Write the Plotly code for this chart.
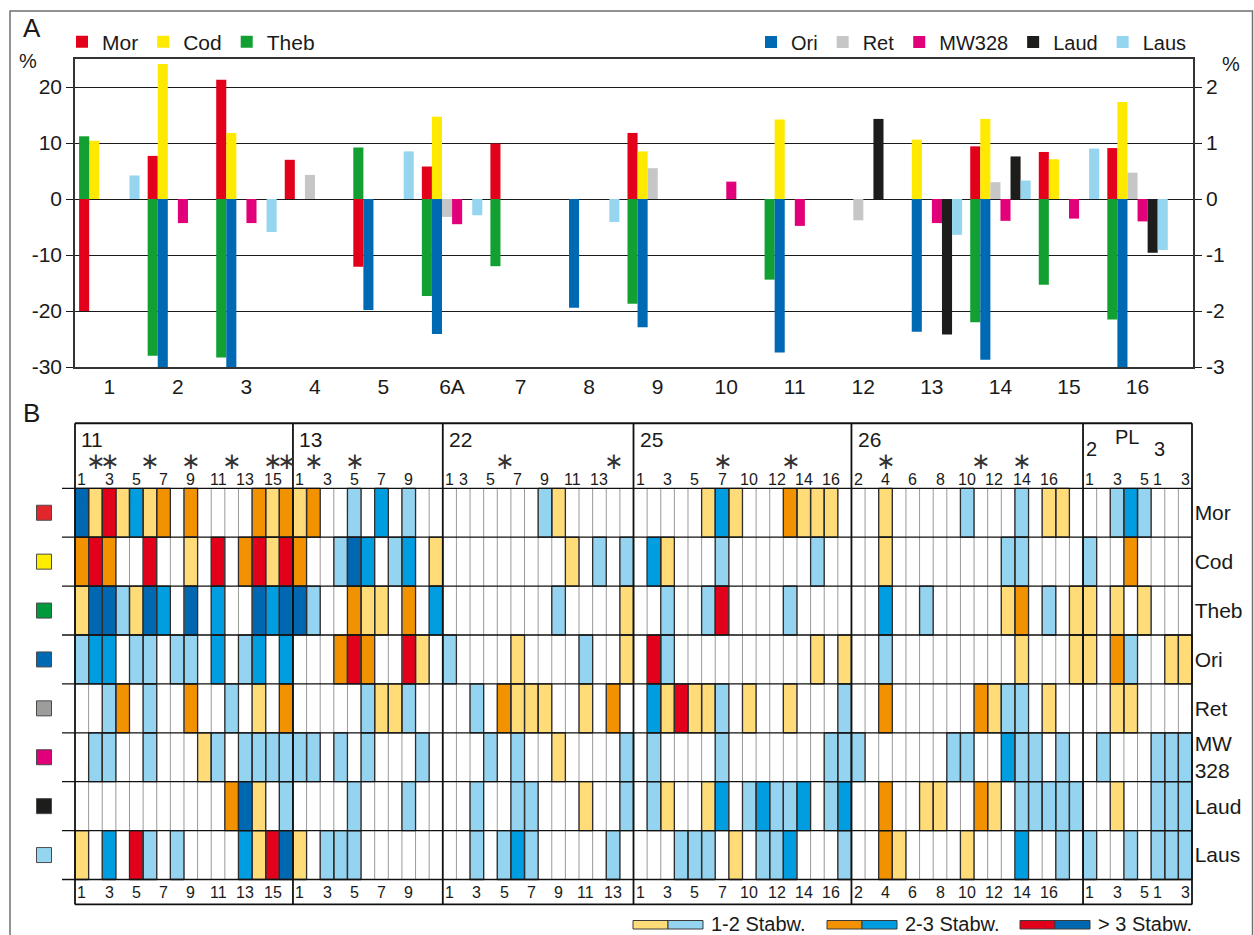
import numpy as np
import plotly.graph_objects as go

W, H = 1254, 935          # reference pixel frame
FIG_H = 946               # canvas height (page is captured and fitted to 935)
FONT = "Liberation Sans, Arial, Helvetica, sans-serif"
NARROW = "Liberation Sans Narrow, Arial Narrow, Liberation Sans, sans-serif"
INK = "#1a1a1a"


def px(x):
    return x / W


def py(y):
    return 1 - y / H


# ---------------- Panel A data ----------------
CATEGORIES = ["1", "2", "3", "4", "5", "6A", "7", "8", "9", "10", "11", "12", "13", "14", "15", "16"]
# left axis (%)
MOR = [-20.0, 7.7, 21.3, 7.0, -12.1, 5.8, 9.9, None, 11.8, None, None, None, None, 9.4, 8.4, 9.1]
COD = [10.4, 24.1, 11.8, None, None, 14.7, None, None, 8.5, None, 14.2, None, 10.6, 14.3, 7.1, 17.3]
THEB = [11.2, -28.0, -28.3, None, 9.2, -17.3, -12.0, None, -18.7, None, -14.4, None, None, -22.0, -15.3, -21.5]
# right axis (%)
ORI = [None, -3.07, -3.17, None, -1.98, -2.41, None, -1.94, -2.29, None, -2.74, None, -2.37, -2.87, None, -3.0]
RET = [None, None, None, 0.43, None, -0.32, None, None, 0.55, None, None, -0.38, None, 0.30, None, 0.47]
MW328 = [None, -0.43, -0.43, None, None, -0.45, None, None, None, 0.31, -0.48, None, -0.43, -0.39, -0.35, -0.40]
LAUD = [None, None, None, None, None, None, None, None, None, None, None, 1.43, -2.42, 0.76, None, -0.96]
LAUS = [0.42, None, -0.59, None, 0.85, -0.29, None, -0.41, None, None, None, None, -0.64, 0.33, 0.90, -0.91]

LEFT_SERIES = [("Mor", MOR), ("Cod", COD), ("Theb", THEB)]
RIGHT_SERIES = [("Ori", ORI), ("Ret", RET), ("MW328", MW328), ("Laud", LAUD), ("Laus", LAUS)]

COLORS = {"Mor": "#E2001A", "Cod": "#FFE900", "Theb": "#13A033", "Ori": "#0069B4",
          "Ret": "#C6C6C6", "MW328": "#E2007A", "Laud": "#1D1D1B", "Laus": "#95D5F0"}
SLOT = {"Mor": 0, "Theb": 0, "Cod": 1, "Ori": 1, "Ret": 2, "MW328": 3, "Laud": 4, "Laus": 5}
STEP = 0.147

# ---------------- Panel B data ----------------
ROWS = ["Mor", "Cod", "Theb", "Ori", "Ret", "MW<br>328", "Laud", "Laus"]
ROW_SQUARES = ["#E3262C", "#FFED00", "#009A3D", "#0069B4", "#9D9D9C", "#E2007A", "#1D1D1B", "#95D5F0"]
# codes: 1/2/3 = +1-2 / +2-3 / >+3 Stabw. ; -1/-2/-3 = negative side ; 0 = none
G11 = [
    [-3, 1, 3, 1, -2, 1, 2, 0, 2, 0, 0, 0, 0, 2, 1, 2],
    [2, 3, 2, 0, 0, 3, 0, 0, 1, 0, 3, 0, 2, 3, 1, 3],
    [1, -3, -3, -1, 1, -3, -2, 0, -3, 0, -2, 0, 0, -3, -2, -3],
    [-1, -2, -2, 0, -1, -1, 0, -1, -1, 0, -2, 0, -1, -2, 0, -2],
    [0, 0, -1, 2, 0, -1, 0, 0, 2, 0, 0, -1, 0, 1, 0, 2],
    [0, -1, -1, 0, 0, -1, 0, 0, 0, 1, -1, 0, -1, -1, -1, -1],
    [0, 0, 0, 0, 0, 0, 0, 0, 0, 0, 0, 2, -3, 1, 0, -1],
    [1, 0, -2, 0, 3, -1, 0, -1, 0, 0, 0, 0, -2, 1, 3, -3],
]
G13 = [
    [1, 2, 0, 0, -1, 0, -2, 0, -1, 0, 0],
    [2, 0, 0, -1, -3, -2, 0, -1, -2, 0, 1],
    [-3, -1, 0, 0, 2, 1, 1, 0, 2, 0, -2],
    [0, 0, 0, 2, 3, 2, 0, 0, 3, 1, 0],
    [0, 0, 0, 0, 0, -1, 1, 1, -1, 0, 0],
    [-1, -1, 0, -1, 0, -1, 0, 0, 0, -1, 0],
    [0, 0, 0, 0, -1, 0, 0, 0, -1, 0, 0],
    [1, 0, -1, -1, -1, 0, 0, 0, 0, 0, 0],
]
G22 = [
    [0, 0, 0, 0, 0, 0, 0, -1, 1, 0, 0, 0, 0, 0],
    [0, 0, 0, 0, 0, 0, 0, 0, 0, 1, 0, -1, 0, -1],
    [0, 0, 0, 0, 0, 0, 0, 0, -1, 0, 0, 0, 0, 1],
    [-1, 0, 0, 0, 0, 1, 0, 0, 0, 0, -1, 0, 0, 1],
    [0, 0, -1, 0, 2, 1, 1, 1, 0, 0, 1, 0, 2, 0],
    [0, 0, 0, -1, 0, -1, 0, 0, 1, 0, 0, 0, 0, -1],
    [0, 0, -1, 0, 0, -1, -1, 0, 0, 0, 1, 0, 0, -1],
    [0, 0, -1, 0, -1, -2, -1, 0, 0, 0, 0, 0, -1, 0],
]
G25 = [
    [0, 0, 0, 0, 0, 1, -2, 1, 0, 0, 0, 2, 1, 1, 1, 0],
    [0, -2, 1, 0, 0, 0, -1, 0, 0, 0, 0, 0, 0, -1, 0, 0],
    [0, 0, -1, 0, 0, -1, 3, 0, 0, 0, 0, -1, 0, 0, 0, 0],
    [0, 3, -1, 0, 0, 0, 0, 0, 0, 0, 0, 0, 0, 1, 0, 1],
    [0, -2, 1, 3, 1, 1, -1, 0, 1, 0, 0, 1, 0, 0, 0, -1],
    [0, -1, 0, 0, 0, 0, -1, 0, 0, 0, 0, 0, 0, 0, -1, -1],
    [0, -1, 1, 0, 0, 1, -2, 0, -1, -2, -1, -1, -2, 0, -1, -2],
    [0, 0, 0, -1, -1, -1, 0, 1, 0, -1, -1, -2, 0, 0, 0, -1],
]
G26 = [
    [0, 0, 1, 0, 0, 0, 0, 0, -1, 0, 0, 0, -1, 0, 1, 1, 0],
    [0, 0, 1, 0, 0, 0, 0, 0, 0, 0, 0, -1, -1, 0, 0, 0, 0],
    [0, 0, -2, 0, 0, -1, 0, 0, 0, 0, 0, 1, 2, 0, -1, 0, 1],
    [0, 0, -1, 0, 0, 0, 0, 0, 0, 0, 0, 0, 1, 0, 0, 0, 1],
    [0, 0, 2, 0, 0, 0, 0, 0, 0, 2, 1, -1, -1, 0, 1, 0, 0],
    [-1, 0, 0, 0, 0, 0, 0, -1, -1, 0, 0, -2, -1, -1, 0, -1, 0],
    [0, 0, 2, 0, 0, 1, 1, 0, 0, 2, 1, 0, -1, -1, -1, -1, -1],
    [0, 0, 2, 1, 0, 0, 0, 0, 1, 0, 0, 0, -2, 0, 0, -1, 0],
]
GPL = [
    [0, 0, -1, -2, -1, 0, 0, 0],
    [-1, 0, 0, 2, 0, 0, 0, 0],
    [1, 0, 1, 0, 1, 0, 0, 0],
    [1, 0, 2, -1, 0, 0, 1, 1],
    [0, 0, 1, 1, 0, 0, 0, 0],
    [0, -1, 0, 0, 0, -1, -1, -1],
    [0, 0, 1, 0, 0, -1, -1, -1],
    [-1, 0, 0, -1, 0, -1, -1, -1],
]
GROUP_NAMES = ["11", "13", "22", "25", "26", "PL"]
TOP11 = ["1", "", "3", "", "5", "", "7", "", "9", "", "11", "", "13", "", "15", ""]
TOP13 = ["1", "", "3", "", "5", "", "7", "", "9", "", ""]
TOP22 = ["1", "3", "", "5", "", "7", "", "9", "", "11", "", "13", "", ""]
TOP25 = ["1", "", "3", "", "5", "", "7", "", "10", "", "12", "", "14", "", "16", ""]
TOP26 = ["2", "", "4", "", "6", "", "8", "", "10", "", "12", "", "14", "", "16", "", ""]
TOPPL = ["1", "", "3", "", "5", "1", "", "3"]
BOT22 = ["1", "", "3", "", "5", "", "7", "", "9", "", "11", "", "13", ""]
TOP_LABELS = [TOP11, TOP13, TOP22, TOP25, TOP26, TOPPL]
BOTTOM_LABELS = [TOP11, TOP13, BOT22, TOP25, TOP26, TOPPL]
STARS = [[2, 3, 6, 9, 12, 15, 16], [2, 5], [5, 13], [7, 12], [3, 10, 13], []]
PL_SUB_LABELS = ["2", "3"]
PL_SUB_START = [1, 6]

LEVEL_COLORS = ["#0068B1", "#009EE0", "#95D4F1", "#FFFFFF", "#FFDC78", "#F29200", "#E3001B"]
STABW = ["1-2 Stabw.", "2-3 Stabw.", "> 3 Stabw."]

fig = go.Figure()

# ---------------- Panel A ----------------
for name, vals in LEFT_SERIES + RIGHT_SERIES:
    right = name in dict(RIGHT_SERIES)
    fig.add_trace(go.Bar(
        x=CATEGORIES, y=vals, name=name,
        marker=dict(color=COLORS[name], line=dict(width=0)),
        offset=-0.44 + SLOT[name] * STEP, width=STEP,
        xaxis="x", yaxis="y2" if right else "y",
        legend="legend2" if right else "legend",
        cliponaxis=False, hoverinfo="skip"))

# ---------------- Panel B ----------------
arrs = [np.array(g) for g in [G11, G13, G22, G25, G26, GPL]]
Z = np.hstack(arrs)
NR, NC = Z.shape
starts = np.concatenate([[0], np.cumsum([a.shape[1] for a in arrs])])

cs = []
for k, c in enumerate(LEVEL_COLORS):
    cs += [[k / 7, c], [(k + 1) / 7, c]]
fig.add_trace(go.Heatmap(z=Z, x=np.arange(NC) + 0.5, y=np.arange(NR) + 0.5, zmin=-3.5, zmax=3.5,
                         colorscale=cs, showscale=False, xaxis="x2", yaxis="y3", hoverinfo="skip"))


def seg_trace(segs, color, width):
    xs, ys = [], []
    for x0, y0, x1, y1 in segs:
        xs += [x0, x1, None]
        ys += [y0, y1, None]
    return go.Scatter(x=xs, y=ys, mode="lines", line=dict(color=color, width=width),
                      xaxis="x2", yaxis="y3", hoverinfo="skip", showlegend=False)


XL = -13 / 13.622
Y_TOP, Y_BOT = -1.33, 8.51
grey = [(b, 0, b, NR) for b in range(1, NC) if b not in set(starts)]
fig.add_trace(seg_trace(grey, "#9a9a9a", 1))
outl = []
for r in range(NR):
    for c in range(NC):
        if Z[r, c] != 0:
            outl += [(c, r, c + 1, r), (c + 1, r, c + 1, r + 1), (c + 1, r + 1, c, r + 1), (c, r + 1, c, r)]
fig.add_trace(seg_trace(outl, "#2e2e2e", 1.3))
fig.add_trace(seg_trace([(XL, r, NC, r) for r in range(NR + 1)], "#111111", 1.3))
fig.add_trace(seg_trace([(s, Y_TOP, s, Y_BOT) for s in starts] +
                        [(0, Y_TOP, NC, Y_TOP), (0, Y_BOT, NC, Y_BOT)], "#111111", 1.8))

fig.add_trace(go.Scatter(x=[0.5] * NR, y=np.arange(NR) + 0.5, mode="markers",
                         marker=dict(symbol="square", size=15, color=ROW_SQUARES,
                                     line=dict(color="#4a4a4a", width=1)),
                         xaxis="x3", yaxis="y3", hoverinfo="skip", showlegend=False, cliponaxis=False))

ann = []


def A(x, y, text, xref="paper", yref="paper", size=20, family=FONT, xanchor="center", yanchor="middle",
      color=INK):
    ann.append(dict(x=x, y=y, xref=xref, yref=yref, text=text, showarrow=False,
                    font=dict(size=size, family=family, color=color), xanchor=xanchor, yanchor=yanchor))


for gi, s in enumerate(starts[:-1]):
    n = arrs[gi].shape[1]
    name = GROUP_NAMES[gi]
    if name == "PL":
        A(s + n / 2 - 0.8, -1.05, name, "x2", "y3", size=20, family=NARROW)
        for lab, st in zip(PL_SUB_LABELS, PL_SUB_START):
            A(s + st - 0.4, -0.8, lab, "x2", "y3", size=20, family=NARROW)
    else:
        A(s + 0.3, -0.99, name, "x2", "y3", size=21, family=NARROW, xanchor="left")
    for i, lab in enumerate(TOP_LABELS[gi]):
        if lab:
            A(s + i + 0.5, -0.17, lab, "x2", "y3", size=16, family=NARROW)
    for i, lab in enumerate(BOTTOM_LABELS[gi]):
        if lab:
            A(s + i + 0.5, 8.27, lab, "x2", "y3", size=16, family=NARROW)
    for c in STARS[gi]:
        A(s + c - 0.5, -0.56, "∗", "x2", "y3", size=23, family="DejaVu Sans", color="#333333")

A(px(21), py(28), "A", size=26, xanchor="left")
A(px(21), py(413), "B", size=26, xanchor="left")
A(px(28), py(61), "%", size=20)
A(px(1231), py(64), "%", size=20)

shapes = [dict(type="rect", xref="paper", yref="paper", x0=px(10), x1=px(1252.5), y0=-0.02, y1=py(11),
               line=dict(color="#707070", width=1.5), fillcolor="rgba(0,0,0,0)", layer="below")]
box_left = [633, 827, 1020]
for k, (lab, bl) in enumerate(zip(STABW, box_left)):
    pos_c = LEVEL_COLORS[4 + k]
    neg_c = LEVEL_COLORS[2 - k]
    for j, col in enumerate([pos_c, neg_c]):
        shapes.append(dict(type="rect", xref="paper", yref="paper", x0=px(bl + 35 * j), x1=px(bl + 35 * (j + 1)),
                           y0=py(929), y1=py(920.5), fillcolor=col, line=dict(color="#3a3a3a", width=1)))
    A(px(bl + 76), py(924), lab, size=20, xanchor="left")

# zero-line ticks between categories
y0d, y1d = py(367), py(59)
zero_pos = y0d + (0 - (-30)) / 55 * (y1d - y0d)

YR = [8.57, -1.39]
ROW_H, ROW0 = 48.9, 488.3
XR = [XL, NC + 0.12]

fig.update_layout(
    width=W, height=FIG_H, margin=dict(l=0, r=0, t=0, b=0),
    paper_bgcolor="white", plot_bgcolor="rgba(0,0,0,0)",
    font=dict(family=FONT, color=INK, size=20),
    barmode="overlay", showlegend=True,
    legend=dict(x=px(62), y=py(42), xanchor="left", yanchor="middle", orientation="h",
                font=dict(size=21), bgcolor="rgba(0,0,0,0)", itemwidth=30, tracegroupgap=0),
    legend2=dict(x=px(1192), y=py(42), xanchor="right", yanchor="middle", orientation="h",
                 font=dict(size=20), bgcolor="rgba(0,0,0,0)", itemwidth=30, tracegroupgap=0),
    xaxis=dict(domain=[px(75), px(1193)], type="category", categoryorder="array", categoryarray=CATEGORIES,
               range=[-0.5, 15.81], showline=True, mirror=True, linecolor="#333", linewidth=1.5,
               ticks="", showgrid=False, tickfont=dict(size=21), anchor="y"),
    yaxis=dict(domain=[y0d, y1d], range=[-30, 25], tickvals=[-30, -20, -10, 0, 10, 20],
               ticktext=["-30", "-20", "-10", "0", "10", "20"], showgrid=True, gridcolor="#1a1a1a",
               gridwidth=1, zeroline=True, zerolinecolor="#1a1a1a", zerolinewidth=1.2, showline=True,
               linecolor="#333", linewidth=1.5, ticks="outside", ticklen=7, tickcolor="#1a1a1a",
               tickfont=dict(size=21), anchor="x"),
    yaxis2=dict(overlaying="y", side="right", anchor="x", range=[-3, 2.5], tickvals=[-3, -2, -1, 0, 1, 2],
                ticktext=["-3", "-2", "-1", "0", "1", "2"], showgrid=False, zeroline=False, showline=True,
                linecolor="#333", linewidth=1.5, ticks="outside", ticklen=7, tickcolor="#1a1a1a",
                tickfont=dict(size=21)),
    xaxis4=dict(overlaying="x", anchor="free", position=zero_pos, range=[-0.5, 15.81],
                tickvals=[i + 0.5 for i in range(len(CATEGORIES) - 1)], ticks="outside", ticklen=4,
                tickcolor="#1a1a1a", showticklabels=False, showgrid=False, zeroline=False, showline=False),
    xaxis2=dict(domain=[px(62), px(75 + XR[1] * 13.622)], range=XR, visible=False, anchor="y3"),
    yaxis3=dict(domain=[py(ROW0 + YR[0] * ROW_H), py(ROW0 + YR[1] * ROW_H)], range=YR, anchor="x2",
                side="right", tickvals=list(np.arange(NR) + 0.5), ticktext=ROWS, ticks="",
                showgrid=False, zeroline=False, showline=False, tickfont=dict(size=21)),
    xaxis3=dict(domain=[px(30), px(58)], range=[0, 1], visible=False, anchor="y3"),
    annotations=ann, shapes=shapes,
)

POST = ("document.documentElement.style.margin='0';document.documentElement.style.padding='0';"
        "document.body.style.margin='0';document.body.style.padding='0';")
fig.write_html("out.html", config={"displayModeBar": False}, post_script=POST)
